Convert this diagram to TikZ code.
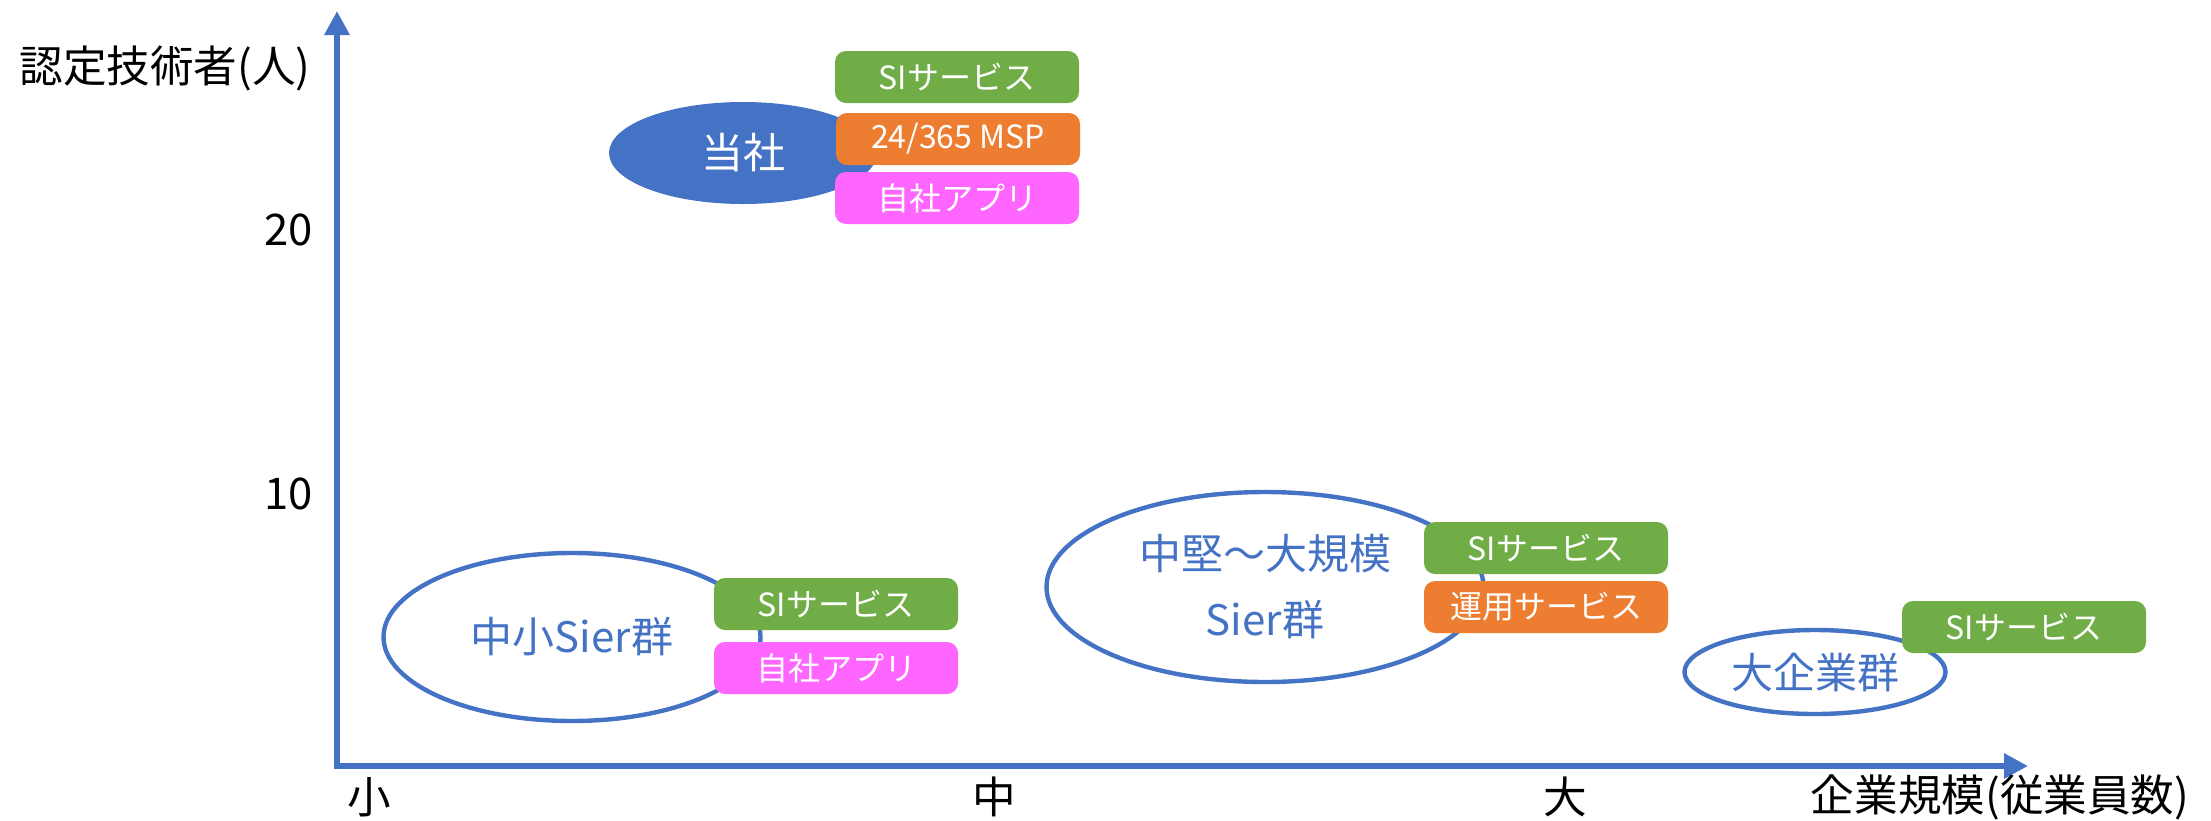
\documentclass[tikz,border=0pt]{standalone}
\usepackage{fontspec}
\setmainfont{Noto Sans CJK JP}
\usetikzlibrary{arrows.meta,shapes.geometric}
\definecolor{axblue}{HTML}{4472C4}
\definecolor{sigreen}{HTML}{70AD47}
\definecolor{msporange}{HTML}{ED7D31}
\definecolor{apppink}{HTML}{FF66FF}
\tikzset{
  axisline/.style={draw=axblue,line width=3.2pt,-{Triangle[length=12pt,width=12pt]}},
  axlabel/.style={font=\fontsize{21.8}{25}\selectfont,text=black,inner sep=0pt},
  grp/.style={ellipse,draw=axblue,line width=2.2pt,fill=white,inner sep=0pt,text=axblue,font=\fontsize{21}{33}\selectfont,align=center},
  svc/.style={rectangle,rounded corners=5.5pt,minimum width=122pt,minimum height=26pt,inner sep=0pt,text=white,font=\fontsize{16}{18}\selectfont},
  sisvc/.style={svc,fill=sigreen},
  opsvc/.style={svc,fill=msporange},
  appsvc/.style={svc,fill=apppink}
}
\begin{document}
\begin{tikzpicture}[x=0.5pt,y=-0.5pt]
\useasboundingbox (0,0) rectangle (2211,820);
% axes
\coordinate (O) at (337,766);
\coordinate (ytip) at (337,11);
\coordinate (xtip) at (2028,766);
\draw[axisline] (337,769) -- (ytip);
\draw[axisline] (334,766) -- (xtip);
% axis labels
\node[axlabel] (ylab) at (165,68) {認定技術者(人)};
\node[axlabel,anchor=east] (y20) at (313,230) {20};
\node[axlabel,anchor=east] (y10) at (313,494) {10};
\node[axlabel] (xs) at (369,797) {小};
\node[axlabel] (xm) at (994,797) {中};
\node[axlabel] (xl) at (1565,797) {大};
\node[axlabel] (xlab) at (2000,797) {企業規模(従業員数)};
% groups
\node[grp,fill=axblue,text=white,draw=none,minimum width=134pt,minimum height=51pt] (tosha) at (743,153) {当社};
\node[grp,minimum width=188.5pt,minimum height=84pt] (chusho) at (572,637) {中小Sier群};
\node[grp,minimum width=218.5pt,minimum height=95pt] (chuken) at (1265,587) {中堅～大規模\\Sier群};
\node[grp,minimum width=130.5pt,minimum height=42pt] (daikigyo) at (1815,672) {大企業群};
% services
\node[sisvc] (t1) at (957,77) {SIサービス};
\node[opsvc] (t2) at (958,139) {24/365 MSP};
\node[appsvc] (t3) at (957,198) {自社アプリ};
\node[sisvc] (c1) at (836,604) {SIサービス};
\node[appsvc] (c2) at (836,668) {自社アプリ};
\node[sisvc] (m1) at (1546,548) {SIサービス};
\node[opsvc] (m2) at (1546,607) {運用サービス};
\node[sisvc] (l1) at (2024,627) {SIサービス};
\end{tikzpicture}
\end{document}
